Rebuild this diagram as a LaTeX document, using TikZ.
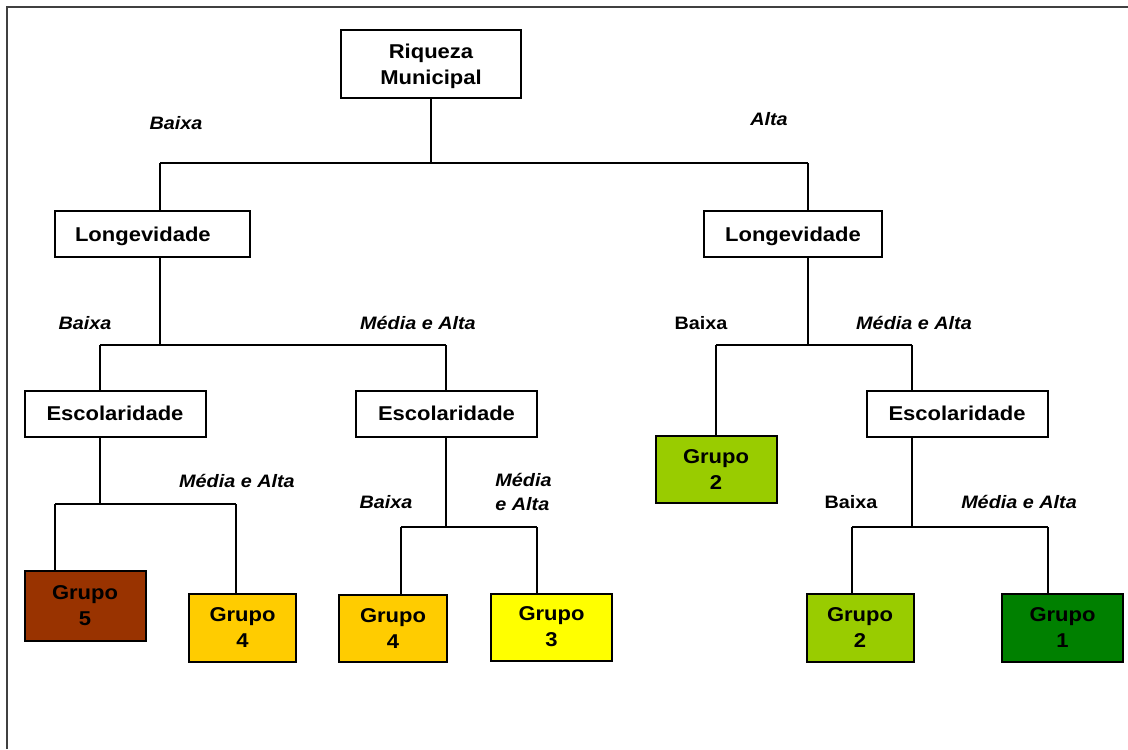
\documentclass[tikz,border=0pt]{standalone}
\usepackage{fontspec}
\setmainfont{Liberation Sans}[FakeStretch=1.1]
\definecolor{marrom}{HTML}{993300}
\definecolor{ouro}{HTML}{FFCC00}
\definecolor{amarelo}{HTML}{FFFF00}
\definecolor{lima}{HTML}{99CC00}
\definecolor{verde}{HTML}{008000}
\begin{document}
\begin{tikzpicture}[x=0.5pt,y=-0.5pt,
  caixa/.style={draw,line width=1pt,inner sep=0pt,align=center,text depth=-0.9pt,
    font=\bfseries\fontsize{10}{13}\selectfont},
  grupo/.style={caixa,fill=#1,text depth=-2.6pt},
  rotulo/.style={font=\bfseries\itshape\fontsize{9}{12}\selectfont,inner sep=0pt},
  reto/.style={font=\bfseries\fontsize{9}{12}\selectfont,inner sep=0pt},
  liga/.style={line width=0.8pt}]
 \useasboundingbox (0,0) rectangle (1128,749);
 \draw[line width=1pt,black!75] (7,749) -- (7,7) -- (1128,7);

 \node[caixa,minimum width=90pt,minimum height=34pt] (riq) at (431,64) {Riqueza\\Municipal};
 \node[caixa,align=left,text width=77.5pt,inner xsep=10pt,minimum height=23pt] (lonA) at (152.5,234) {Longevidade};
 \node[caixa,minimum width=89pt,minimum height=23pt] (lonB) at (793,234) {Longevidade};
 \node[caixa,minimum width=90.5pt,minimum height=23pt] (escA) at (115,413.5) {Escolaridade};
 \node[caixa,minimum width=90.5pt,minimum height=23pt] (escB) at (446.5,413.5) {Escolaridade};
 \node[caixa,minimum width=90.5pt,minimum height=23pt] (escC) at (957,413.5) {Escolaridade};

 \node[grupo=lima,minimum width=60.5pt,minimum height=33.5pt] (g2a) at (716,469.5) {Grupo\\2};
 \node[grupo=marrom,minimum width=60.5pt,minimum height=35pt] (g5) at (85,606) {Grupo\\5};
 \node[grupo=ouro,minimum width=53.5pt,minimum height=34pt] (g4a) at (242.5,628) {Grupo\\4};
 \node[grupo=ouro,minimum width=54pt,minimum height=33.5pt] (g4b) at (393,628.5) {Grupo\\4};
 \node[grupo=amarelo,minimum width=60.5pt,minimum height=33.5pt] (g3) at (551.5,627) {Grupo\\3};
 \node[grupo=lima,minimum width=53.5pt,minimum height=34pt] (g2b) at (860,628) {Grupo\\2};
 \node[grupo=verde,minimum width=60.5pt,minimum height=34pt] (g1) at (1062.5,628) {Grupo\\1};

 \coordinate (rA) at (160,163); \coordinate (rB) at (808,163);
 \coordinate (sA) at (100,345); \coordinate (sB) at (446,345);
 \coordinate (tA) at (716,345); \coordinate (tB) at (912,345);
 \coordinate (uA) at (55,504);  \coordinate (uB) at (236,504);
 \coordinate (vA) at (401,527); \coordinate (vB) at (537,527);
 \coordinate (wA) at (852,527); \coordinate (wB) at (1048,527);

 \draw[liga] (riq) -- (riq |- rA) (rA) -- (rB);
 \draw[liga] (rA) -- (rA |- lonA.north) (rB) -- (rB |- lonB.north);

 \draw[liga] (rA |- lonA.south) -- (rA |- sA) (sA) -- (sB);
 \draw[liga] (sA) -- (sA |- escA.north) (sB) -- (sB |- escB.north);
 \draw[liga] (rB |- lonB.south) -- (rB |- tA) (tA) -- (tB);
 \draw[liga] (tA) -- (tA |- g2a.north) (tB) -- (tB |- escC.north);

 \draw[liga] (sA |- escA.south) -- (sA |- uA) (uA) -- (uB);
 \draw[liga] (uA) -- (uA |- g5.north) (uB) -- (uB |- g4a.north);
 \draw[liga] (sB |- escB.south) -- (sB |- vA) (vA) -- (vB);
 \draw[liga] (vA) -- (vA |- g4b.north) (vB) -- (vB |- g3.north);
 \draw[liga] (tB |- escC.south) -- (tB |- wA) (wA) -- (wB);
 \draw[liga] (wA) -- (wA |- g2b.north) (wB) -- (wB |- g1.north);

 \node[rotulo] (b1) at (176,123) {Baixa};
 \node[rotulo] (a1) at (769,119) {Alta};
 \node[rotulo] (b2) at (85,323) {Baixa};
 \node[rotulo] (m2) at (418,323) {Média e Alta};
 \node[reto] (b3) at (701,323) {Baixa};
 \node[rotulo] (m3) at (914,323) {Média e Alta};
 \node[rotulo] (m4) at (237,481) {Média e Alta};
 \node[rotulo] (b5) at (386,502) {Baixa};
 \node[rotulo,align=left,anchor=west] (m5) at (495,492) {Média\\e Alta};
 \node[reto] (b6) at (851,502) {Baixa};
 \node[rotulo] (m6) at (1019,502) {Média e Alta};
\end{tikzpicture}
\end{document}
